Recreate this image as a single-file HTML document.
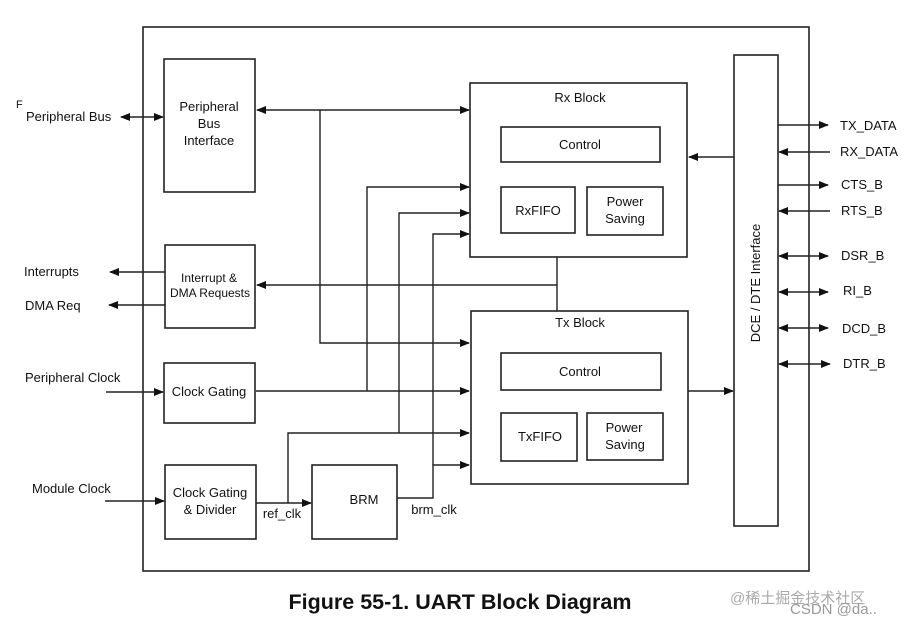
<!DOCTYPE html>
<html><head><meta charset="utf-8"><style>
body{margin:0;background:#fff}
svg{display:block}
text{font-family:"Liberation Sans",Arial,sans-serif;font-size:13px;fill:#111}
</style></head><body>
<svg width="909" height="624" viewBox="0 0 909 624" xmlns="http://www.w3.org/2000/svg">
<defs>
<marker id="a" markerWidth="10" markerHeight="8" refX="9" refY="4" orient="auto-start-reverse" markerUnits="userSpaceOnUse">
<path d="M0,0 L10,4 L0,8 z" fill="#111"/></marker>
</defs>
<g fill="none" stroke="#222" stroke-width="1.6">
<rect x="143" y="27" width="666" height="544"/>
<rect x="164" y="59" width="91" height="133"/>
<rect x="165" y="245" width="90" height="83"/>
<rect x="164" y="363" width="91" height="60"/>
<rect x="165" y="465" width="91" height="74"/>
<rect x="312" y="465" width="85" height="74"/>
<rect x="470" y="83" width="217" height="174"/>
<rect x="501" y="127" width="159" height="35"/>
<rect x="501" y="187" width="74" height="46"/>
<rect x="587" y="187" width="76" height="48"/>
<rect x="471" y="311" width="217" height="173"/>
<rect x="501" y="353" width="160" height="37"/>
<rect x="501" y="413" width="76" height="48"/>
<rect x="587" y="413" width="76" height="47"/>
<rect x="734" y="55" width="44" height="471"/>
</g>
<g fill="none" stroke="#222" stroke-width="1.4">
<line x1="257" y1="110" x2="469" y2="110" marker-start="url(#a)" marker-end="url(#a)"/>
<polyline points="320,110 320,343 469,343" marker-end="url(#a)"/>
<polyline points="367,391 367,187 469,187" marker-end="url(#a)"/>
<polyline points="399,433 399,213 469,213" marker-end="url(#a)"/>
<polyline points="433,465 433,234 469,234" marker-end="url(#a)"/>
<polyline points="557,257 557,285 257,285" marker-end="url(#a)"/>
<line x1="557" y1="285" x2="557" y2="311"/>
<line x1="256" y1="391" x2="469" y2="391" marker-end="url(#a)"/>
<line x1="256" y1="503" x2="311" y2="503" marker-end="url(#a)"/>
<polyline points="288,503 288,433 469,433" marker-end="url(#a)"/>
<polyline points="397,498 433,498 433,465 469,465" marker-end="url(#a)"/>
<line x1="688" y1="391" x2="733" y2="391" marker-end="url(#a)"/>
<line x1="734" y1="157" x2="689" y2="157" marker-end="url(#a)"/>
<line x1="778" y1="125" x2="828" y2="125" marker-end="url(#a)"/>
<line x1="830" y1="152" x2="779" y2="152" marker-end="url(#a)"/>
<line x1="778" y1="185" x2="828" y2="185" marker-end="url(#a)"/>
<line x1="830" y1="211" x2="779" y2="211" marker-end="url(#a)"/>
<line x1="779" y1="256" x2="828" y2="256" marker-start="url(#a)" marker-end="url(#a)"/>
<line x1="779" y1="292" x2="828" y2="292" marker-start="url(#a)" marker-end="url(#a)"/>
<line x1="779" y1="328" x2="828" y2="328" marker-start="url(#a)" marker-end="url(#a)"/>
<line x1="779" y1="364" x2="830" y2="364" marker-start="url(#a)" marker-end="url(#a)"/>
<line x1="121" y1="117" x2="163" y2="117" marker-start="url(#a)" marker-end="url(#a)"/>
<line x1="165" y1="272" x2="110" y2="272" marker-end="url(#a)"/>
<line x1="165" y1="305" x2="109" y2="305" marker-end="url(#a)"/>
<line x1="106" y1="392" x2="163" y2="392" marker-end="url(#a)"/>
<line x1="105" y1="501" x2="164" y2="501" marker-end="url(#a)"/>
</g>
<g text-anchor="middle">
<text x="209" y="111">Peripheral</text><text x="209" y="128">Bus</text><text x="209" y="145">Interface</text>
<text x="209" y="282" style="font-size:12px">Interrupt &amp;</text><text x="210" y="297" style="font-size:12px">DMA Requests</text>
<text x="209" y="396">Clock Gating</text>
<text x="210" y="497">Clock Gating</text><text x="210" y="514">&amp; Divider</text>
<text x="364" y="504">BRM</text>
<text x="580" y="102">Rx Block</text>
<text x="580" y="149">Control</text>
<text x="538" y="215">RxFIFO</text>
<text x="625" y="206">Power</text><text x="625" y="223">Saving</text>
<text x="580" y="327">Tx Block</text>
<text x="580" y="376">Control</text>
<text x="540" y="441">TxFIFO</text>
<text x="624" y="432">Power</text><text x="625" y="449">Saving</text>
<text x="282" y="518">ref_clk</text>
<text x="434" y="514">brm_clk</text>
<text transform="translate(760,283) rotate(-90)">DCE / DTE Interface</text>
</g>
<text x="840" y="130">TX_DATA</text>
<text x="840" y="156">RX_DATA</text>
<text x="841" y="189">CTS_B</text>
<text x="841" y="215">RTS_B</text>
<text x="841" y="260">DSR_B</text>
<text x="843" y="295">RI_B</text>
<text x="842" y="333">DCD_B</text>
<text x="843" y="368">DTR_B</text>
<text x="16" y="108" style="font-size:11px">F</text>
<text x="26" y="121">Peripheral Bus</text>
<text x="24" y="276">Interrupts</text>
<text x="25" y="310">DMA Req</text>
<text x="25" y="382">Peripheral Clock</text>
<text x="32" y="493">Module Clock</text>
<text x="460" y="609" text-anchor="middle" style="font-size:21.5px;font-weight:bold">Figure 55-1. UART Block Diagram</text>
<text x="730" y="603" style="font-size:15px;fill:#aaa;font-family:'Liberation Sans','Noto Sans CJK SC',sans-serif">@稀土掘金技术社区</text>
<text x="790" y="614" style="font-size:15px;fill:#999">CSDN @da..</text>
</svg>
</body></html>
